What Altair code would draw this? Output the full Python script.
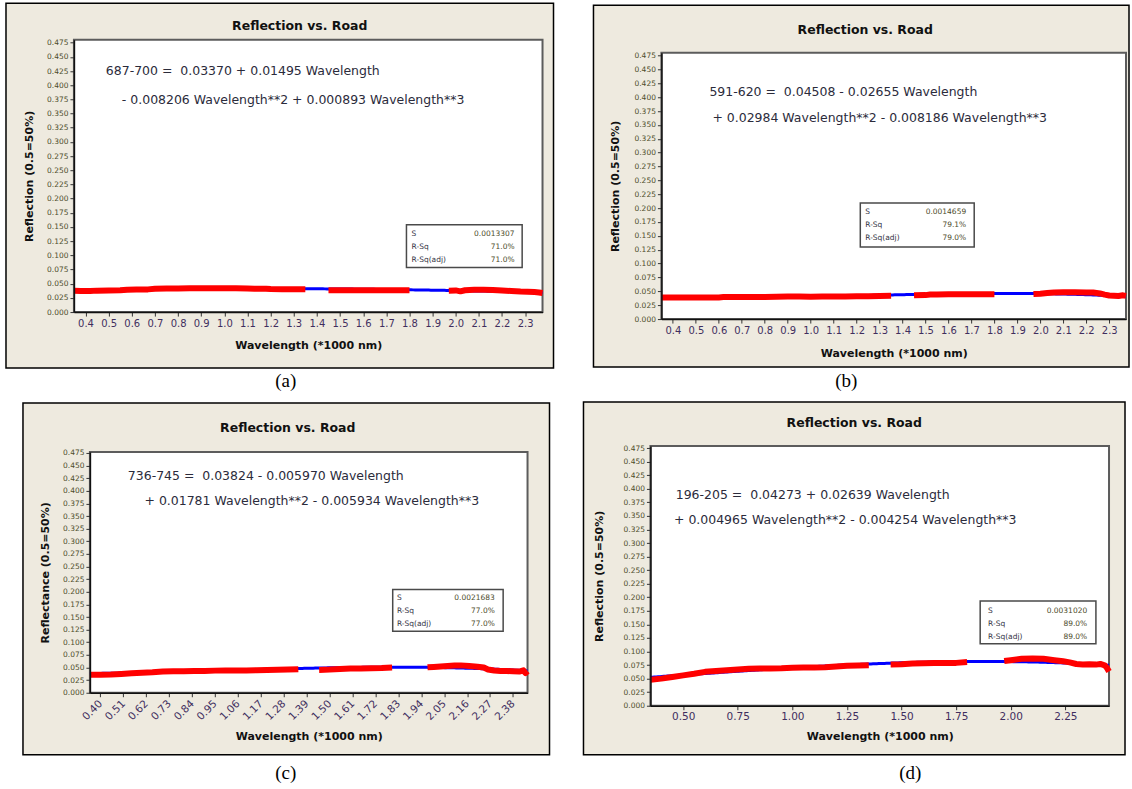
import altair as alt
import numpy as np
import pandas as pd

# ---------------------------------------------------------------- text
PLOT_TITLE = "Reflection vs. Road"
X_TITLE = "Wavelength (*1000 nm)"
STAT_NAMES = ["S", "R-Sq", "R-Sq(adj)"]

# ---------------------------------------------------------------- ticks
Y_TICKS = [0.0, 0.025, 0.05, 0.075, 0.1, 0.125, 0.15, 0.175, 0.2, 0.225,
           0.25, 0.275, 0.3, 0.325, 0.35, 0.375, 0.4, 0.425, 0.45, 0.475]
AB_X_TICKS = [0.4, 0.5, 0.6, 0.7, 0.8, 0.9, 1.0, 1.1, 1.2, 1.3, 1.4, 1.5,
              1.6, 1.7, 1.8, 1.9, 2.0, 2.1, 2.2, 2.3]
C_X_TICKS = [0.40, 0.51, 0.62, 0.73, 0.84, 0.95, 1.06, 1.17, 1.28, 1.39,
             1.50, 1.61, 1.72, 1.83, 1.94, 2.05, 2.16, 2.27, 2.38]
D_X_TICKS = [0.50, 0.75, 1.00, 1.25, 1.50, 1.75, 2.00, 2.25]

# ---------------------------------------------------------------- (a) 687-700
A_WAVE = [0.35, 0.38, 0.42, 0.45, 0.50, 0.55, 0.58, 0.62, 0.67, 0.70, 0.75,
          0.80, 0.85, 0.90, 0.95, 1.00, 1.05, 1.10, 1.13, 1.18, 1.20, 1.25,
          1.30, 1.35,
          1.45, 1.50, 1.55, 1.60, 1.65, 1.70, 1.75, 1.80,
          1.97, 2.00, 2.02, 2.04, 2.08, 2.12, 2.16, 2.20, 2.24, 2.28, 2.31,
          2.34, 2.36, 2.375]
A_REFL = [0.0378, 0.0372, 0.0370, 0.0378, 0.0380, 0.0384, 0.0395, 0.0398,
          0.0400, 0.0412, 0.0416, 0.0417, 0.0418, 0.0418, 0.0418, 0.0419,
          0.0418, 0.0415, 0.0410, 0.0412, 0.0405, 0.0404, 0.0402, 0.0401,
          0.0385, 0.0386, 0.0385, 0.0384, 0.0385, 0.0384, 0.0385, 0.0385,
          0.0378, 0.0382, 0.0365, 0.0385, 0.0392, 0.0393, 0.0390, 0.0380,
          0.0372, 0.0362, 0.0358, 0.0352, 0.0345, 0.0335]
A_SEG = [1] * 24 + [2] * 8 + [3] * 14
A_COEF = [0.03370, 0.01495, -0.008206, 0.000893]
A_EQ = ["687-700 =\u00a0 0.03370 + 0.01495 Wavelength",
        "- 0.008206 Wavelength**2 + 0.000893 Wavelength**3"]
A_STATS = ["0.0013307", "71.0%", "71.0%"]

# ---------------------------------------------------------------- (b) 591-620
B_WAVE = [0.35, 0.40, 0.45, 0.50, 0.55, 0.60, 0.62, 0.66, 0.70, 0.75, 0.80,
          0.85, 0.90, 0.95, 1.00, 1.05, 1.10, 1.15, 1.20, 1.25, 1.30, 1.35,
          1.45, 1.50, 1.52, 1.55, 1.60, 1.65, 1.70, 1.75, 1.80,
          1.97, 2.00, 2.03, 2.06, 2.10, 2.15, 2.20, 2.23, 2.26, 2.28, 2.30,
          2.32, 2.34, 2.36, 2.373]
B_REFL = [0.0390, 0.0388, 0.0387, 0.0387, 0.0388, 0.0390, 0.0396, 0.0396,
          0.0398, 0.0399, 0.0400, 0.0401, 0.0405, 0.0406, 0.0404, 0.0406,
          0.0407, 0.0409, 0.0411, 0.0413, 0.0415, 0.0420,
          0.0428, 0.0432, 0.0442, 0.0444, 0.0446, 0.0447, 0.0448, 0.0448,
          0.0447,
          0.0452, 0.0458, 0.0470, 0.0480, 0.0484, 0.0484, 0.0480, 0.0478,
          0.0462, 0.0440, 0.0425, 0.0420, 0.0415, 0.0428, 0.0418]
B_SEG = [1] * 22 + [2] * 9 + [3] * 15
B_COEF = [0.04508, -0.02655, 0.02984, -0.008186]
B_EQ = ["591-620 =\u00a0 0.04508 - 0.02655 Wavelength",
        "+ 0.02984 Wavelength**2 - 0.008186 Wavelength**3"]
B_STATS = ["0.0014659", "79.1%", "79.0%"]

# ---------------------------------------------------------------- (c) 736-745
C_WAVE = [0.35, 0.40, 0.45, 0.50, 0.55, 0.60, 0.65, 0.70, 0.75, 0.80, 0.85,
          0.90, 0.95, 1.00, 1.05, 1.10, 1.15, 1.20, 1.25, 1.30, 1.35,
          1.45, 1.50, 1.55, 1.60, 1.65, 1.70, 1.75, 1.80,
          1.97, 2.00, 2.05, 2.10, 2.13, 2.17, 2.21, 2.24, 2.26, 2.29, 2.32,
          2.35, 2.38, 2.41, 2.43, 2.44, 2.45]
C_REFL = [0.0358, 0.0356, 0.0360, 0.0372, 0.0385, 0.0398, 0.0405, 0.0420,
          0.0425, 0.0428, 0.0430, 0.0432, 0.0438, 0.0440, 0.0443, 0.0440,
          0.0447, 0.0450, 0.0453, 0.0458, 0.0465,
          0.0452, 0.0458, 0.0470, 0.0478, 0.0482, 0.0485, 0.0490, 0.0500,
          0.0503, 0.0510, 0.0525, 0.0540, 0.0542, 0.0530, 0.0515, 0.0500,
          0.0460, 0.0440, 0.0432, 0.0430, 0.0425, 0.0420, 0.0445, 0.0390,
          0.0430]
C_SEG = [1] * 21 + [2] * 8 + [3] * 17
C_COEF = [0.03824, -0.005970, 0.01781, -0.005934]
C_EQ = ["736-745 =\u00a0 0.03824 - 0.005970 Wavelength",
        "+ 0.01781 Wavelength**2 - 0.005934 Wavelength**3"]
C_STATS = ["0.0021683", "77.0%", "77.0%"]

# ---------------------------------------------------------------- (d) 196-205
D_WAVE = [0.35, 0.40, 0.45, 0.50, 0.55, 0.60, 0.65, 0.70, 0.75, 0.80, 0.85,
          0.90, 0.95, 1.00, 1.05, 1.10, 1.15, 1.20, 1.25, 1.30, 1.35,
          1.45, 1.50, 1.55, 1.60, 1.65, 1.70, 1.75, 1.80,
          1.97, 2.00, 2.05, 2.10, 2.15, 2.20, 2.24, 2.27, 2.30, 2.33, 2.36,
          2.39, 2.41, 2.43, 2.44, 2.45]
D_REFL = [0.0480, 0.0500, 0.0530, 0.0560, 0.0590, 0.0625, 0.0640, 0.0655,
          0.0668, 0.0680, 0.0685, 0.0688, 0.0690, 0.0700, 0.0705, 0.0706,
          0.0710, 0.0722, 0.0735, 0.0740, 0.0745,
          0.0760, 0.0765, 0.0780, 0.0785, 0.0787, 0.0788, 0.0790, 0.0805,
          0.0825, 0.0840, 0.0865, 0.0870, 0.0865, 0.0840, 0.0820, 0.0800,
          0.0770, 0.0760, 0.0765, 0.0758, 0.0770, 0.0745, 0.0700, 0.0630]
D_SEG = [1] * 21 + [2] * 8 + [3] * 16
D_COEF = [0.04273, 0.02639, 0.004965, -0.004254]
D_EQ = ["196-205 =\u00a0 0.04273 + 0.02639 Wavelength",
        "+ 0.004965 Wavelength**2 - 0.004254 Wavelength**3"]
D_STATS = ["0.0031020", "89.0%", "89.0%"]

# ---------------------------------------------------------------- look
CELL_W, CELL_H = 566, 394
BEIGE = "#eeeadf"
RED = "#ff0000"
BLUE = "#0000ff"
FONT = "DejaVu Sans"
YLAB_COLOR = "#4d4c2a"
XLAB_COLOR = "#3f2e5e"
TEXT_COLOR = "#2b2b3b"

# per-panel placement inside its cell (pixels) and annotation anchors (data units)
LAYOUT = {
    "a": dict(left=74, right=543, top=39.5, bottom=312,
              xdom=[0.35, 2.375], ydom=[0, 0.48], xticks=AB_X_TICKS,
              xfmt=".1f", xlab=10, xangle=0, ytitle="Reflection (0.5=50%)",
              frame=[6, 554, 3, 368], title_xy=[300, 26], tag="(a)",
              tag_xy=[286, 381], ytitle_dx=-44.5, xtitle_dy=33,
              eq_w=[0.488, 0.557], eq_r=[0.4245, 0.3734],
              box=[1.787, 2.287, 0.1538, 0.0787], stat_w=[1.809, 2.254],
              stat_r=[0.1374, 0.1154, 0.0925]),
    "b": dict(left=96, right=561, top=52.5, bottom=319,
              xdom=[0.35, 2.373], ydom=[0, 0.48], xticks=AB_X_TICKS,
              xfmt=".1f", xlab=10, xangle=0, ytitle="Reflection (0.5=50%)",
              frame=[28, 564, 5, 367], title_xy=[300, 30], tag="(b)",
              tag_xy=[281, 381], ytitle_dx=-46, xtitle_dy=34,
              eq_w=[0.559, 0.572], eq_r=[0.4096, 0.3627],
              box=[1.216, 1.712, 0.2093, 0.1299], stat_w=[1.2375, 1.677],
              stat_r=[0.1931, 0.1696, 0.1462]),
    "c": dict(left=90, right=528, top=58, bottom=299,
              xdom=[0.35, 2.45], ydom=[0, 0.477], xticks=C_X_TICKS,
              xfmt=".2f", xlab=10.5, xangle=-45, ytitle="Reflectance (0.5=50%)",
              frame=[23, 550, 9, 361], title_xy=[288, 34.5], tag="(c)",
              tag_xy=[286, 379], ytitle_dx=-44.4, xtitle_dy=43.6,
              eq_w=[0.532, 0.612], eq_r=[0.4294, 0.380],
              box=[1.803, 2.333, 0.2046, 0.1217], stat_w=[1.823, 2.293],
              stat_r=[0.188, 0.1629, 0.137]),
    "d": dict(left=85, right=544, top=52, bottom=312,
              xdom=[0.35, 2.45], ydom=[0, 0.479], xticks=D_X_TICKS,
              xfmt=".2f", xlab=10.5, xangle=0, ytitle="Reflection (0.5=50%)",
              frame=[18, 560, 8, 361], title_xy=[289, 29.5], tag="(d)",
              tag_xy=[345, 379], ytitle_dx=-51.4, xtitle_dy=30.6,
              eq_w=[0.466, 0.458], eq_r=[0.3892, 0.3428],
              box=[1.860, 2.390, 0.1933, 0.1141], stat_w=[1.896, 2.350],
              stat_r=[0.1749, 0.151, 0.127]),
}

ONE = pd.DataFrame({"k": [0]})

AXIS_COMMON = dict(
    grid=False, zindex=1, domainColor="#111111", domainWidth=1.5,
    tickColor="#333333", tickSize=4, tickWidth=1, labelFont=FONT,
    labelFlush=False, labelOverlap=False,
    titleFont=FONT, titleFontSize=11, titleFontWeight="bold",
    titleColor="#111111", titleBaseline="middle",
)


def cubic(coef, w):
    return coef[0] + coef[1] * w + coef[2] * w ** 2 + coef[3] * w ** 3


def make_panel(wave, refl, seg, coef, eq, stats, L):
    xs = alt.Scale(domain=L["xdom"], range=[L["left"], L["right"]],
                   nice=False, zero=False)
    ys = alt.Scale(domain=L["ydom"], range=[L["bottom"], L["top"]],
                   nice=False, zero=False)
    rotated = L["xangle"] != 0
    xaxis = alt.Axis(
        title=X_TITLE, values=L["xticks"], format=L["xfmt"],
        offset=L["bottom"] - CELL_H, labelFontSize=L["xlab"],
        labelColor=XLAB_COLOR, labelAngle=L["xangle"],
        labelAlign="right" if rotated else "center",
        labelBaseline="middle" if rotated else "top",
        labelPadding=5 if rotated else 2,
        titleY=L["xtitle_dy"], **AXIS_COMMON)
    yaxis = alt.Axis(
        title=L["ytitle"], values=Y_TICKS, format=".3f", offset=-L["left"],
        labelFontSize=7.5, labelColor=YLAB_COLOR, labelPadding=2,
        titleX=L["ytitle_dx"], **AXIS_COMMON)
    X = alt.X("w:Q", scale=xs, axis=xaxis)
    Y = alt.Y("r:Q", scale=ys, axis=yaxis)

    f = L["frame"]
    frame = alt.Chart(ONE).mark_rect(
        fill=BEIGE, stroke="#000000", strokeWidth=1.5).encode(
        x=alt.value(f[0]), x2=alt.value(f[1]),
        y=alt.value(f[2]), y2=alt.value(f[3]))
    plot_bg = alt.Chart(ONE).mark_rect(
        fill="white", stroke="#5c5c5c", strokeWidth=2).encode(
        x=alt.value(L["left"]), x2=alt.value(L["right"]),
        y=alt.value(L["top"]), y2=alt.value(L["bottom"]))

    grid = np.linspace(L["xdom"][0], L["xdom"][1], 240)
    fit_df = pd.DataFrame({"w": grid, "r": cubic(coef, grid)})
    fit = alt.Chart(fit_df).mark_line(
        color=BLUE, strokeWidth=3).encode(x=X, y=Y)

    obs_df = pd.DataFrame({"w": wave, "r": refl, "seg": seg})
    obs = alt.Chart(obs_df).mark_line(
        color=RED, strokeWidth=6, strokeJoin="round").encode(
        x=X, y=Y, detail="seg:N")

    eq_df = pd.DataFrame({"w": L["eq_w"], "r": L["eq_r"], "t": eq})
    eq_text = alt.Chart(eq_df).mark_text(
        align="left", baseline="middle", font=FONT, fontSize=12.5,
        color=TEXT_COLOR).encode(x=X, y=Y, text="t:N")

    b = L["box"]
    box_df = pd.DataFrame({"w": [b[0]], "w2": [b[1]], "r": [b[2]], "r2": [b[3]]})
    box = alt.Chart(box_df).mark_rect(
        fill="white", stroke="#4a4a4a", strokeWidth=1.5).encode(
        x=X, x2="w2:Q", y=Y, y2="r2:Q")

    names_df = pd.DataFrame({"w": [L["stat_w"][0]] * 3, "r": L["stat_r"],
                             "t": STAT_NAMES})
    vals_df = pd.DataFrame({"w": [L["stat_w"][1]] * 3, "r": L["stat_r"],
                            "t": stats})
    names = alt.Chart(names_df).mark_text(
        align="left", baseline="middle", font=FONT, fontSize=7.5,
        color="#333344").encode(x=X, y=Y, text="t:N")
    vals = alt.Chart(vals_df).mark_text(
        align="right", baseline="middle", font=FONT, fontSize=7.5,
        color="#4d4c2a").encode(x=X, y=Y, text="t:N")

    title = alt.Chart(ONE).mark_text(
        text=PLOT_TITLE, font=FONT, fontSize=12.5, fontWeight="bold",
        color="#111111", align="center", baseline="middle").encode(
        x=alt.value(L["title_xy"][0]), y=alt.value(L["title_xy"][1]))
    tag = alt.Chart(ONE).mark_text(
        text=L["tag"], font="Liberation Serif", fontSize=19, color="#000000",
        align="center", baseline="middle").encode(
        x=alt.value(L["tag_xy"][0]), y=alt.value(L["tag_xy"][1]))

    return alt.layer(frame, plot_bg, fit, obs, eq_text, box, names, vals,
                     title, tag).properties(width=CELL_W, height=CELL_H)


panel_a = make_panel(A_WAVE, A_REFL, A_SEG, A_COEF, A_EQ, A_STATS, LAYOUT["a"])
panel_b = make_panel(B_WAVE, B_REFL, B_SEG, B_COEF, B_EQ, B_STATS, LAYOUT["b"])
panel_c = make_panel(C_WAVE, C_REFL, C_SEG, C_COEF, C_EQ, C_STATS, LAYOUT["c"])
panel_d = make_panel(D_WAVE, D_REFL, D_SEG, D_COEF, D_EQ, D_STATS, LAYOUT["d"])

chart = alt.concat(
    panel_a, panel_b, panel_c, panel_d, columns=2, spacing=0, bounds="flush"
).properties(padding=0, background="white").configure_view(strokeWidth=0)

chart.save("out.html", embed_options={"renderer": "svg", "actions": False})
